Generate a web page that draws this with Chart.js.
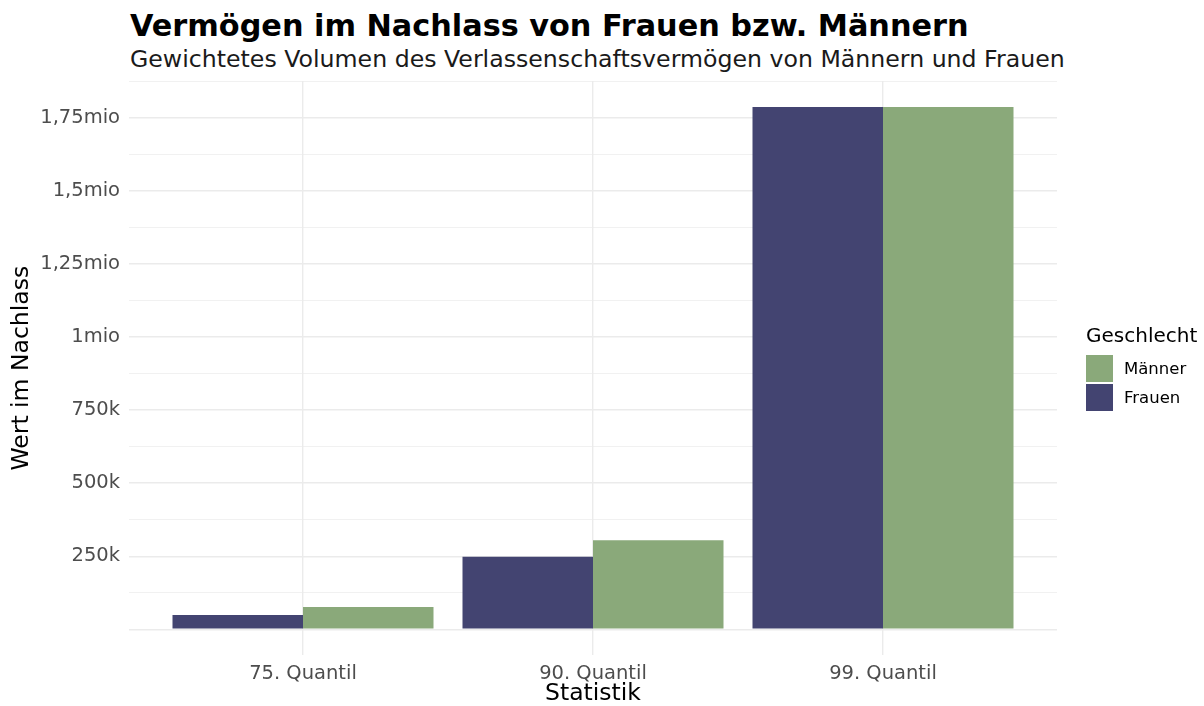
<!DOCTYPE html>
<html>
<head>
<meta charset="utf-8">
<script src="https://cdn.jsdelivr.net/npm/chart.js@4.4.1/dist/chart.umd.min.js"></script>
<style>
  html, body { margin: 0; padding: 0; background: #ffffff; }
  body { width: 1204px; height: 706px; position: relative; overflow: hidden; font-family: 'DejaVu Sans', sans-serif; }
  #title { position: absolute; left: 130px; top: 8px; font-size: 30.3px; line-height: 35px; font-weight: bold; color: #000; white-space: nowrap; }
  #subtitle { position: absolute; left: 130px; top: 46px; font-size: 23.65px; line-height: 27px; color: #1a1a1a; white-space: nowrap; }
  #chartWrap { position: absolute; left: 0; top: 0; width: 1204px; height: 706px; }
  #legend { position: absolute; left: 1086px; top: 323px; color: #000; }
  #legend .ltitle { font-size: 20px; line-height: 24px; margin-bottom: 7px; }
  #legend .item { display: flex; align-items: center; height: 29px; font-size: 16.5px; }
  #legend .sw { width: 27px; height: 27px; margin-right: 11px; }
</style>
</head>
<body>
<div id="title">Vermögen im Nachlass von Frauen bzw. Männern</div>
<div id="subtitle">Gewichtetes Volumen des Verlassenschaftsvermögen von Männern und Frauen</div>
<div id="chartWrap"><canvas id="chart" width="1204" height="706"></canvas></div>
<div id="legend"></div>

<script>
// --- data ---
const categories = ['75. Quantil', '90. Quantil', '99. Quantil'];
const frauen = [49000, 248000, 1787000];
const maenner = [76000, 305000, 1787000];
const seriesNames = ['Frauen', 'Männer'];
const seriesColors = ['#434471', '#8aa97a'];
const yTickValues = [0, 125000, 250000, 375000, 500000, 625000, 750000, 875000,
                     1000000, 1125000, 1250000, 1375000, 1500000, 1625000, 1750000, 1875000];
const yTickLabels = { 250000: '250k', 500000: '500k', 750000: '750k', 1000000: '1mio',
                      1250000: '1,25mio', 1500000: '1,5mio', 1750000: '1,75mio' };

const GRID = '#ebebeb';

function toPoints(values) {
    return values.map((v, i) => ({ x: i + 1, y: v }));
}

// ggplot-like expansion (5% each side)
const yMaxData = Math.max(...frauen, ...maenner);
const yPad = yMaxData * 0.05;

const ctx = document.getElementById('chart');

const chart = new Chart(ctx, {
    type: 'bar',
    data: {
        datasets: [
            {
                label: seriesNames[0],
                data: toPoints(frauen),
                backgroundColor: seriesColors[0],
                borderWidth: 0
            },
            {
                label: seriesNames[1],
                data: toPoints(maenner),
                backgroundColor: seriesColors[1],
                borderWidth: 0
            }
        ]
    },
    options: {
        responsive: false,
        animation: false,
        devicePixelRatio: 1,
        layout: { padding: { top: 81, right: 147, left: 0, bottom: 0 } },
        datasets: {
            bar: { barPercentage: 1.0, categoryPercentage: 0.9, grouped: true }
        },
        plugins: {
            legend: { display: false },
            title: { display: false },
            tooltip: { enabled: false }
        },
        scales: {
            x: {
                type: 'linear',
                min: 0.4,
                max: 3.6,
                offset: false,
                afterBuildTicks: s => { s.ticks = categories.map((c, i) => ({ value: i + 1 })); },
                afterFit: s => { s.height = 50.6; },
                border: { display: false },
                grid: { color: GRID, lineWidth: 1.4, drawTicks: false, offset: false },
                ticks: {
                    padding: 7,
                    color: '#4d4d4d',
                    font: { family: 'DejaVu Sans', size: 19.5 },
                    callback: v => categories[v - 1] || ''
                },
                title: {
                    display: true,
                    text: 'Statistik',
                    color: '#000',
                    font: { family: 'DejaVu Sans', size: 23.5 },
                    padding: { top: 0, bottom: -2 }
                }
            },
            y: {
                type: 'linear',
                min: -yPad,
                max: yMaxData + yPad,
                afterBuildTicks: s => { s.ticks = yTickValues.map(v => ({ value: v })); },
                afterFit: s => { s.width = 129; },
                border: { display: false },
                grid: {
                    color: GRID,
                    drawTicks: false,
                    lineWidth: c => (c.tick && c.tick.value % 250000 === 0) ? 1.4 : 0.7
                },
                ticks: {
                    padding: 9,
                    color: '#4d4d4d',
                    font: { family: 'DejaVu Sans', size: 19.5 },
                    callback: v => yTickLabels[v] || ''
                },
                title: {
                    display: true,
                    text: 'Wert im Nachlass',
                    color: '#000',
                    font: { family: 'DejaVu Sans', size: 23.5 },
                    padding: { top: 8, bottom: 0 }
                }
            }
        }
    }
});

// legend (ggplot order: Männer above Frauen)
const legendEl = document.getElementById('legend');
let html = '<div class="ltitle">Geschlecht</div>';
for (let i = seriesNames.length - 1; i >= 0; i--) {
    html += '<div class="item"><div class="sw" style="background:' + seriesColors[i] + '"></div>' + seriesNames[i] + '</div>';
}
legendEl.innerHTML = html;
</script>
</body>
</html>
